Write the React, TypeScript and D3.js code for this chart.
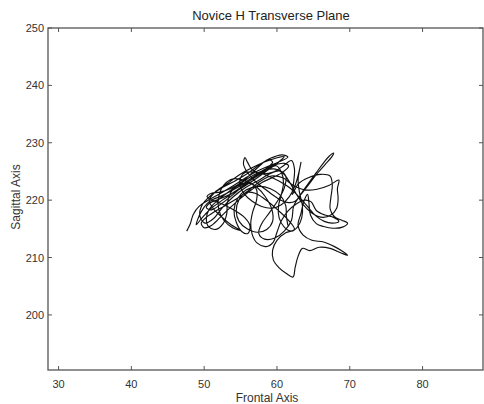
import React from "react";
import * as d3 from "d3";

const title = "Novice H Transverse Plane";
const xLabel = "Frontal Axis";
const yLabel = "Sagittal Axis";
const xTicks = [30, 40, 50, 60, 70, 80];
const yTicks = [200, 210, 220, 230, 240, 250];
const xDomain = [28.55, 88.3];
const yDomain = [190.4, 250];

const frontal = [
  47.6, 48.1, 48.5, 49.3, 50.7, 52.4, 54.1, 55.7, 57.2, 58.8, 60.3, 61.5, 60.7, 59.1, 57.5, 56.0, 54.3, 52.5, 50.8, 49.7,
  49.4, 50.1, 51.3, 52.5, 54.0, 55.7, 57.4, 58.9, 60.3, 61.2, 61.0, 60.1, 58.9, 57.9, 57.5, 58.3, 59.7, 61.0, 62.0, 62.3,
  63.2, 64.3, 65.4, 66.4, 67.2, 67.8, 67.5, 66.6, 65.5, 64.4, 63.3, 62.5,
  61.4, 60.0, 58.5, 57.0, 55.9, 55.4, 55.6, 56.0, 56.6, 57.9, 59.5, 60.8, 62.0, 62.4, 62.3, 62.1,
  62.9, 64.3, 66.0, 67.3, 67.6, 67.4, 67.3, 67.9, 68.9, 69.7, 69.0, 67.7, 66.4, 65.4, 64.6, 64.4, 64.2, 63.7, 63.3, 62.9,
  63.6, 64.8, 66.4, 67.9, 69.1, 69.7, 68.8, 67.3, 65.8, 64.5, 63.5,
  62.9, 62.5, 62.2, 61.3, 60.3, 59.5, 59.4, 60.0, 61.2, 62.4,
  61.5, 60.1, 58.4, 57.0, 55.7, 54.8, 54.4, 54.8, 55.9, 57.3, 58.6, 59.4, 59.3, 58.4, 57.2, 55.6, 54.0, 52.7, 52.0, 52.0,
  52.7, 53.9, 55.0,
  53.6, 52.3, 51.2, 50.7, 51.5, 53.1, 54.8, 56.5, 58.2, 59.8, 61.0, 60.2, 58.8, 57.4, 56.0, 54.6, 53.2, 51.9, 50.8, 50.3,
  51.0, 52.4, 54.0, 55.6, 57.3, 58.9, 59.9,
  60.6, 60.9, 60.6, 60.2, 60.3, 61.0, 62.0, 62.8, 63.4, 63.5, 63.1, 62.9, 63.1, 63.3, 63.0, 62.5, 61.7, 60.6, 59.3, 57.9,
  56.6, 55.5, 54.9, 55.0, 55.6,
  57.0, 58.6, 60.2, 61.7, 63.0, 64.2, 65.3, 66.5, 67.6, 68.5, 67.8, 66.6, 65.4, 64.7,
  63.8, 62.6, 61.5, 60.6, 60.0, 59.5, 58.5, 57.3, 56.6, 56.4, 56.7, 57.2, 57.2, 56.4, 55.1, 53.8, 53.2, 53.1, 52.6, 51.6,
  50.6, 50.3, 50.7, 51.8, 53.3, 55.0, 56.7, 58.3, 59.8, 60.9,
  61.8, 62.6, 63.7, 65.0, 66.3, 67.4, 68.2, 68.4, 68.3, 68.5,
  67.2, 65.5, 63.8, 62.2, 60.8, 59.2, 57.6, 56.0, 54.4, 52.8, 51.3, 50.2, 49.6, 50.0, 51.0, 52.2, 53.5, 55.0, 56.5, 58.0,
  59.5, 60.7, 61.6, 61.0, 59.6, 58.1, 56.7, 55.2, 53.7, 52.3, 51.2, 50.4, 49.6, 49.1, 48.9, 49.7, 50.9, 52.5, 54.2, 55.8,
  57.2, 58.5, 59.4, 58.9, 57.9, 56.7, 55.3, 53.8, 52.2, 51.0, 50.4, 51.3, 52.7, 54.2, 55.6, 56.3, 56.0, 55.2, 54.4, 54.1,
  54.6, 55.8, 57.5, 59.1, 60.4, 61.2, 61.3, 61.5,
];

const sagittal = [
  214.6, 215.9, 217.5, 218.9, 220.1, 221.3, 222.6, 223.9, 225.0, 225.9, 226.7, 227.5, 227.9, 227.3, 226.1, 224.7, 223.4, 222.2, 220.7, 219.1,
  217.3, 216.0, 216.8, 218.7, 220.6, 222.2, 223.4, 224.5, 225.1, 224.2, 222.1, 219.9, 217.7, 215.9, 214.2, 213.2, 213.4, 214.6, 216.5, 219.0,
  220.9, 222.9, 224.8, 226.5, 227.7, 228.2, 227.5, 226.2, 224.6, 222.8, 221.0, 219.8,
  219.6, 220.4, 221.8, 223.3, 224.9, 226.3, 227.4, 226.5, 225.3, 224.6, 224.9, 225.9, 226.9, 225.5, 223.2, 221.0,
  222.8, 223.9, 224.5, 224.2, 222.6, 220.4, 218.5, 217.1, 216.5, 216.0, 215.3, 215.1, 215.4, 215.9, 217.4, 219.4, 221.0, 219.8, 217.7, 215.6,
  213.9, 213.0, 212.7, 211.9, 211.0, 210.4, 210.8, 211.6, 211.8, 211.2, 211.6,
  210.2, 208.3, 206.6, 207.2, 208.2, 209.6, 211.3, 213.0, 214.3, 214.9,
  216.6, 218.3, 220.1, 221.2, 221.3, 220.1, 218.1, 216.3, 215.0, 214.4, 214.9, 216.3, 218.4, 220.6, 222.3, 223.4, 223.7, 222.6, 220.6, 218.4,
  216.5, 215.2, 214.7,
  215.8, 217.2, 218.6, 220.0, 221.4, 222.8, 224.4, 225.6, 226.6, 227.3, 227.6, 226.6, 225.3, 224.0, 222.8, 221.7, 220.8, 220.1, 219.5, 218.7,
  218.3, 219.4, 221.0, 222.8, 224.2, 225.5, 226.0,
  224.9, 223.0, 221.0, 218.9, 216.9, 215.3, 214.6, 215.3, 216.9, 219.0, 221.3, 223.5, 225.3, 226.6, 224.8, 222.6, 220.6, 219.2, 218.6, 218.9,
  219.8, 221.1, 222.6, 223.9, 224.8,
  224.9, 224.3, 223.4, 222.2, 220.6, 218.9, 217.3, 216.3, 216.0, 216.3, 217.0, 217.4, 218.2, 219.7,
  220.0, 219.3, 218.1, 216.4, 214.4, 212.7, 211.9, 212.5, 214.0, 216.0, 218.1, 220.0, 221.8, 222.9, 222.8, 221.6, 219.6, 217.6, 215.9, 214.9,
  215.4, 216.8, 218.4, 219.9, 221.4, 222.9, 224.3, 225.2, 225.4, 224.6,
  223.0, 221.2, 219.1, 217.6, 217.0, 217.4, 218.6, 220.3, 222.0, 223.5,
  222.6, 221.9, 221.8, 222.6, 223.9, 224.2, 223.2, 221.6, 220.2, 219.0, 217.9, 216.9, 216.0, 215.2, 215.6, 217.0, 218.6, 220.3, 221.8, 223.1,
  224.0, 224.8, 225.9, 226.4, 226.1, 225.2, 224.0, 222.7, 221.6, 220.7, 220.1, 219.4, 218.0, 216.6, 215.7, 216.9, 218.5, 220.0, 221.5, 222.9,
  224.3, 225.5, 226.6, 227.1, 226.3, 224.9, 223.3, 222.1, 221.4, 221.2, 220.6, 219.9, 219.2, 218.2, 216.9, 215.5, 214.2, 214.5, 216.2, 218.3,
  220.3, 221.8, 222.4, 222.0, 220.9, 219.1, 217.1, 215.6,
];

const W = 484;
const H = 404;
const L = 48, R = 483, T = 28, B = 370;

export default function App() {
  const x = d3.scaleLinear().domain(xDomain).range([L, R]);
  const y = d3.scaleLinear().domain(yDomain).range([B, T]);
  const pts: [number, number][] = frontal.map((f, i) => [f, sagittal[i]]);
  const line = d3
    .line<[number, number]>()
    .x((d) => x(d[0]))
    .y((d) => y(d[1]))
    .curve(d3.curveCatmullRom.alpha(0.5));
  const font = "'Liberation Sans', Arial, sans-serif";
  const axisColor = "#555";
  const textColor = "#333";
  const tl = 4;
  return (
    <svg
      width={W}
      height={H}
      style={{ position: "absolute", left: 0, top: 0, background: "#fff" }}
      fontFamily={font}
    >
      <rect x={0} y={0} width={W} height={H} fill="#fff" />
      <path d={line(pts) || ""} fill="none" stroke="#111" strokeWidth={1.15} strokeLinejoin="round" />
      <rect x={L} y={T} width={R - L} height={B - T} fill="none" stroke={axisColor} strokeWidth={1.3} />
      {xTicks.map((t) => (
        <g key={"x" + t}>
          <line x1={x(t)} x2={x(t)} y1={B} y2={B - tl} stroke={axisColor} strokeWidth={1} />
          <line x1={x(t)} x2={x(t)} y1={T} y2={T + tl} stroke={axisColor} strokeWidth={1} />
          <text x={x(t)} y={388} textAnchor="middle" fontSize={11} fill={textColor}>
            {t}
          </text>
        </g>
      ))}
      {yTicks.map((t) => (
        <g key={"y" + t}>
          <line x1={L} x2={L + tl} y1={y(t)} y2={y(t)} stroke={axisColor} strokeWidth={1} />
          <line x1={R} x2={R - tl} y1={y(t)} y2={y(t)} stroke={axisColor} strokeWidth={1} />
          <text x={44} y={y(t) + 4} textAnchor="end" fontSize={11} fill={textColor}>
            {t}
          </text>
        </g>
      ))}
      <text x={271} y={20} textAnchor="middle" fontSize={13} fill="#222">
        {title}
      </text>
      <text x={267} y={401.5} textAnchor="middle" fontSize={12} fill={textColor}>
        {xLabel}
      </text>
      <text
        transform={`translate(20, 197) rotate(-90)`}
        textAnchor="middle"
        fontSize={12}
        fill={textColor}
      >
        {yLabel}
      </text>
    </svg>
  );
}
